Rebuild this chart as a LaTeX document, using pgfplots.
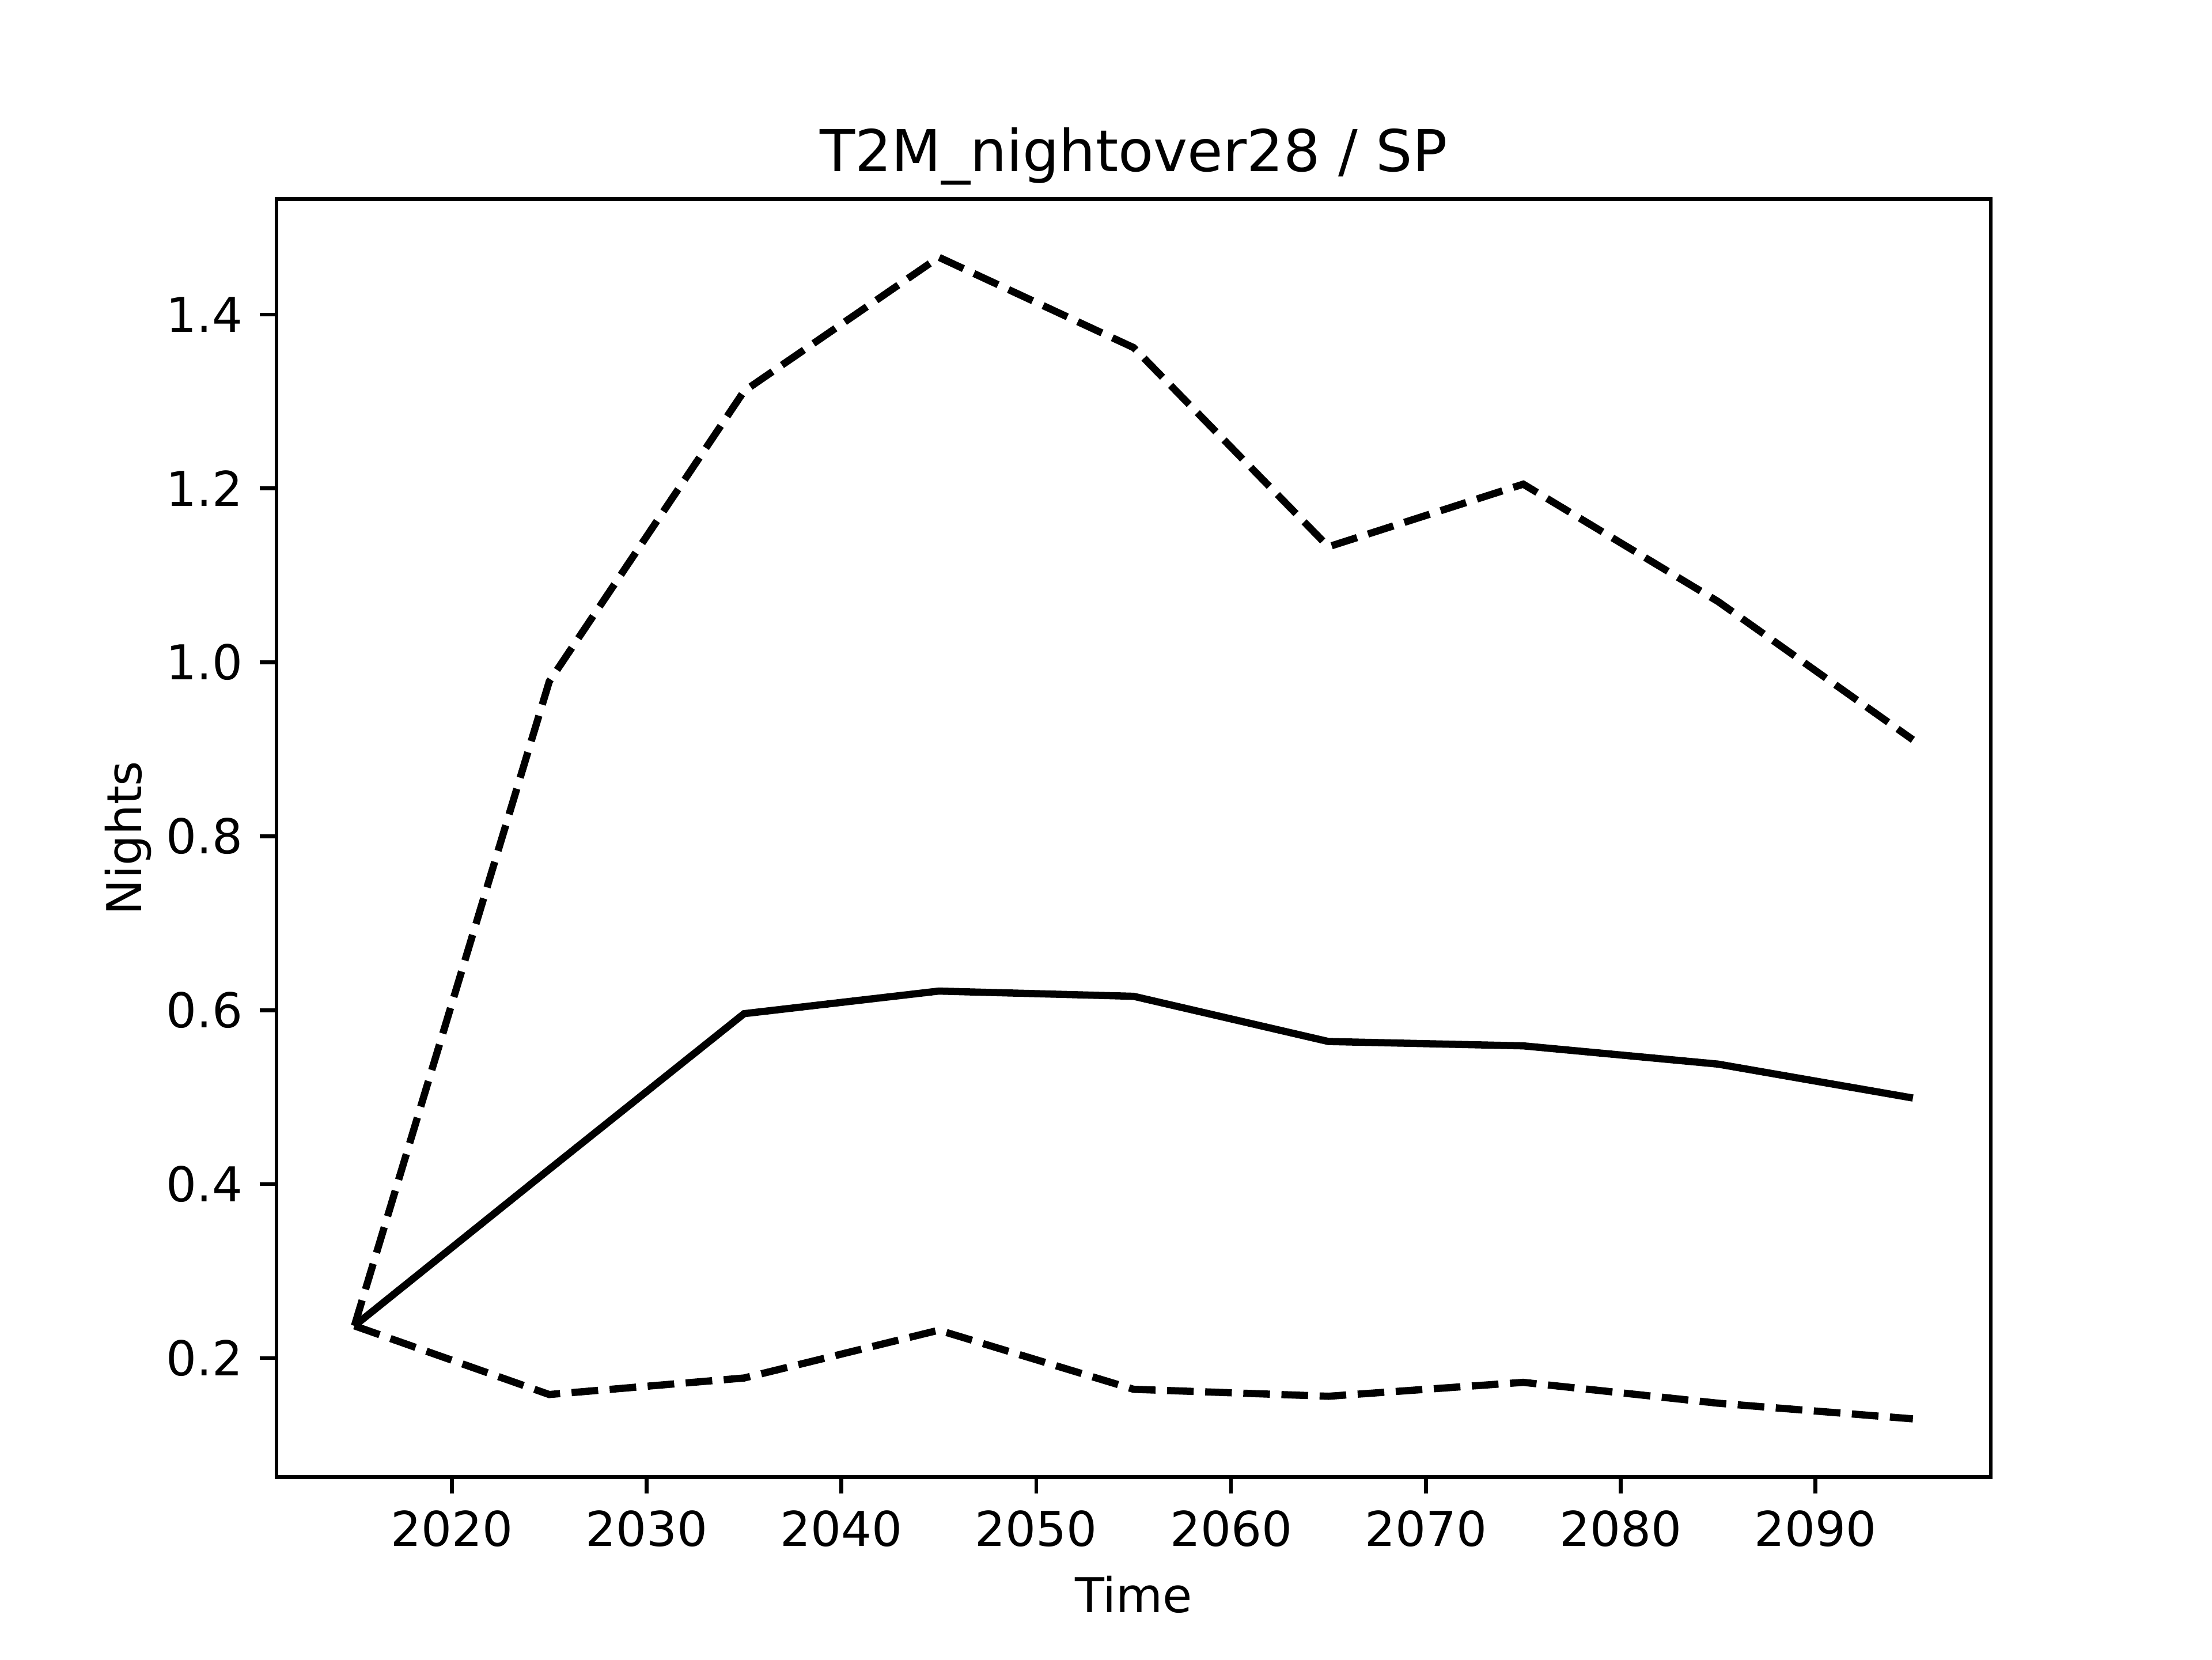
\documentclass[border=0pt]{standalone}
\usepackage{pgfplots}
\pgfplotsset{compat=1.18}
\usepackage{fontspec}
\setmainfont{DejaVu Sans}
\begin{document}
\begin{tikzpicture}
\begin{axis}[
  scale only axis,
  width=357.12pt, height=266.11pt,
  xmin=2011, xmax=2099,
  ymin=0.0632, ymax=1.5328,
  xtick={2020,2030,2040,2050,2060,2070,2080,2090},
  ytick={0.2,0.4,0.6,0.8,1.0,1.2,1.4},
  xticklabel style={/pgf/number format/1000 sep={}},
  yticklabel style={/pgf/number format/fixed,/pgf/number format/fixed zerofill,/pgf/number format/precision=1},
  /pgf/number format/assume math mode=true,
  tick align=outside,
  major tick length=3.5pt,
  tick style={line width=0.8pt,black},
  axis line style={line width=0.8pt},
  xtick pos=bottom, ytick pos=left,
  tick label style={font=\fontsize{10}{12}\selectfont},
  label style={font=\fontsize{10}{12}\selectfont},
  title style={font=\fontsize{12}{14}\selectfont, yshift=-6.6pt},
  title={T2M\_nightover28 / SP},
  xlabel={Time},
  ylabel={Nights},
  xlabel style={yshift=0.8pt},
  ylabel style={yshift=-3.8pt},
]
\addplot[black, line width=1.5pt, dash pattern=on 5.55pt off 2.4pt] coordinates {
(2015,0.237) (2025,0.978) (2035,1.312) (2045,1.466) (2055,1.362) (2065,1.133) (2075,1.205) (2085,1.070) (2095,0.911)};
\addplot[black, line width=1.5pt] coordinates {
(2015,0.237) (2025,0.417) (2035,0.596) (2045,0.622) (2055,0.616) (2065,0.564) (2075,0.559) (2085,0.538) (2095,0.499)};
\addplot[black, line width=1.5pt, dash pattern=on 5.55pt off 2.4pt] coordinates {
(2015,0.237) (2025,0.158) (2035,0.177) (2045,0.232) (2055,0.164) (2065,0.156) (2075,0.172) (2085,0.148) (2095,0.130)};
\end{axis}
\pgfresetboundingbox
\path ([xshift=-57.6pt,yshift=-38.016pt]current axis.south west) rectangle ([xshift=46.08pt,yshift=41.472pt]current axis.north east);
\end{tikzpicture}
\end{document}
